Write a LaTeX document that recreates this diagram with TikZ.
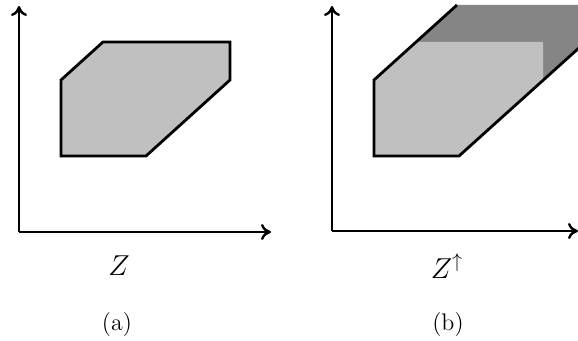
\documentclass[tikz,border=0pt]{standalone}
\usetikzlibrary{arrows.meta}
\definecolor{mLight}{HTML}{C0C0C0}
\definecolor{mDark}{HTML}{858585}

\begin{document}
\begin{tikzpicture}[
  x=0.5pt, y=-0.5pt,
  axis/.style={line width=1.2pt, -{To[length=5pt,width=8pt]}},
  region/.style={line width=1.4pt, line join=miter},
  axislabel/.style={font=\Large, inner sep=0pt},
  caption/.style={font=\large, inner sep=0pt},
]
  \useasboundingbox (0,0) rectangle (578,341);

  % Panel (a)
  \coordinate (oa) at (19,232);
  \coordinate (ya) at (19,6);
  \coordinate (xa) at (271,232);
  \filldraw[region, fill=mLight] (61,80) -- (103,42) -- (230,42) -- (230,80) -- (146,156) -- (61,156) -- cycle;
  \draw[axis] (oa) -- (ya);
  \draw[axis] (oa) -- (xa);
  \node[axislabel] (za) at (119,266) {$Z$};
  \node[caption] (capa) at (117,325) {(a)};

  % Panel (b)
  \coordinate (ob) at (332,231);
  \coordinate (yb) at (332,6);
  \coordinate (xb) at (578,231);
  \begin{scope}
    \clip (0,0) rectangle (578,341);
    \fill[mDark] (374,80) -- (457,5) -- (620,5) -- (620,11) -- (459,156) -- (374,156) -- cycle;
    \fill[mLight] (374,80) -- (416,42) -- (543,42) -- (543,80) -- (459,156) -- (374,156) -- cycle;
    \draw[region] (457,5) -- (374,80) -- (374,156) -- (459,156) -- (620,11);
  \end{scope}
  \draw[axis] (ob) -- (yb);
  \draw[axis] (ob) -- (xb);
  \node[axislabel] (zb) at (447,266) {$Z^{\uparrow}$};
  \node[caption] (capb) at (448,325) {(b)};
\end{tikzpicture}
\end{document}
